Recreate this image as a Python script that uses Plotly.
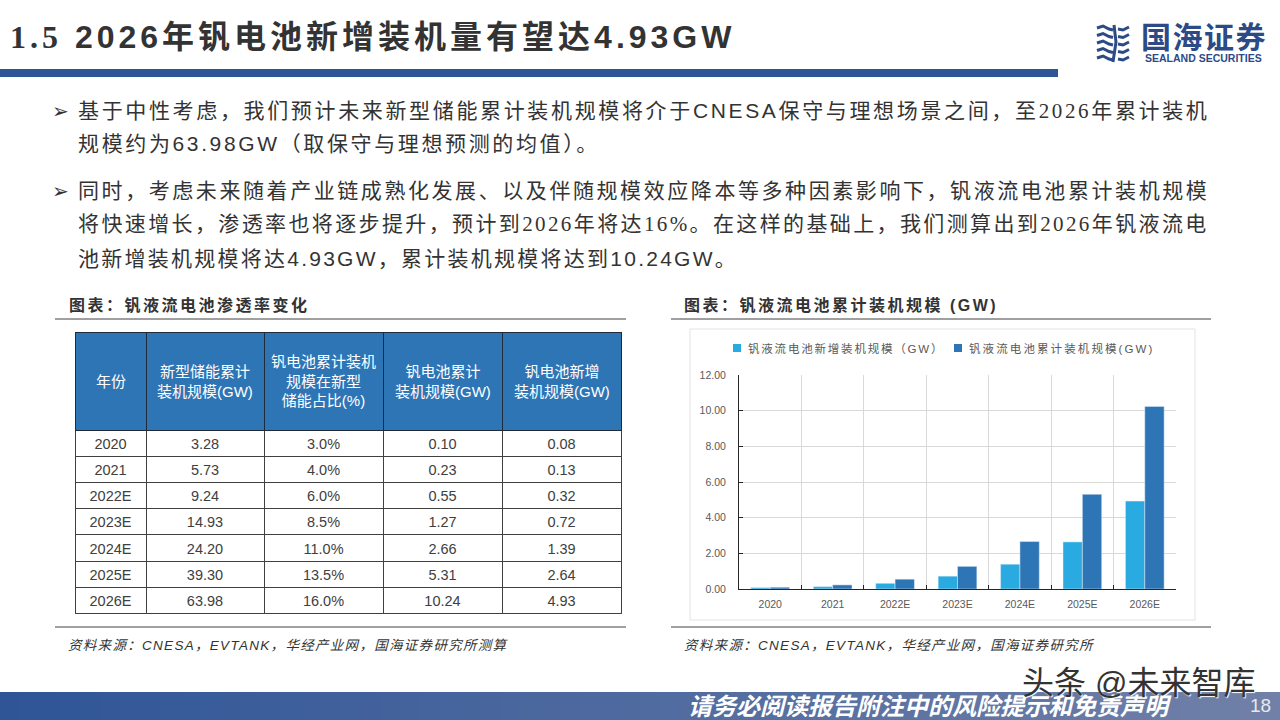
import json
import plotly.graph_objects as go

W, H = 1280, 720
SANS = "Liberation Sans, Noto Sans CJK SC"
SERIF = "Liberation Serif"

# table data
years = ["2020", "2021", "2022E", "2023E", "2024E", "2025E", "2026E"]
storage_total = ["3.28", "5.73", "9.24", "14.93", "24.20", "39.30", "63.98"]
vanadium_share = ["3.0%", "4.0%", "6.0%", "8.5%", "11.0%", "13.5%", "16.0%"]
header_labels = [
    "年份",
    "新型储能累计<br>装机规模(GW)",
    "钒电池累计装机<br>规模在新型<br>储能占比(%)",
    "钒电池累计<br>装机规模(GW)",
    "钒电池新增<br>装机规模(GW)",
]
column_edges = [75, 146, 264, 383, 502, 621]

# chart data
series_new = "钒液流电池新增装机规模（GW）"
series_total = "钒液流电池累计装机规模(GW)"
vanadium_new = [0.08, 0.13, 0.32, 0.72, 1.39, 2.64, 4.93]
vanadium_total = [0.10, 0.23, 0.55, 1.27, 2.66, 5.31, 10.24]
y_ticks = [0, 2, 4, 6, 8, 10, 12]

COLOR_NEW = "#29abe2"
COLOR_TOTAL = "#2e75b6"

# letter spacing of each annotation, applied after the page is drawn
spacing = []


def px(x):
    return x / W


def py(y):
    return 1 - y / H


def serif(text):
    return f'<span style="font-family:{SERIF}">{text}</span>'


def note(x, y, text, size, color="#333333", bold=False, italic=False, anchor="left", family=SANS, gap=0, **kw):
    fig.add_annotation(
        x=px(x), y=py(y), xref="paper", yref="paper", text=text, showarrow=False,
        xanchor=anchor, yanchor="middle", align=anchor,
        font=dict(family=family, size=size, color=color,
                  weight="bold" if bold else "normal",
                  style="italic" if italic else "normal", **kw),
    )
    spacing.append(gap)


def rect(x0, y0, x1, y1, fill=None, line=None, width=0, layer="above"):
    fig.add_shape(
        type="rect", xref="paper", yref="paper", layer=layer,
        x0=px(x0), x1=px(x1), y0=py(y0), y1=py(y1),
        fillcolor=fill, line=dict(color=line, width=width),
    )


def hline(x0, x1, y, color="#404040", width=1):
    fig.add_shape(
        type="line", xref="paper", yref="paper",
        x0=px(x0), x1=px(x1), y0=py(y), y1=py(y), line=dict(color=color, width=width),
    )


def wave(points, color="#2b4a86", width=3):
    # logo strokes, points given in page pixels
    path = "M" + " L".join(f"{px(a):.5f},{py(b):.5f}" for a, b in points)
    fig.add_shape(type="path", xref="paper", yref="paper", path=path, line=dict(color=color, width=width))


fig = go.Figure()

# table on the left, header text is placed separately so it can sit centred
fig.add_trace(go.Table(
    domain=dict(x=[px(column_edges[0]), px(column_edges[-1])], y=[py(622), py(332)]),
    columnwidth=[b - a for a, b in zip(column_edges, column_edges[1:])],
    header=dict(
        values=[""] * 5, height=98,
        fill_color="#2e75b6", line=dict(color="#1f2a3a", width=1),
    ),
    cells=dict(
        values=[years, storage_total, vanadium_share,
                [f"{v:.2f}" for v in vanadium_total], [f"{v:.2f}" for v in vanadium_new]],
        height=26.2, align="center",
        fill_color="white", line=dict(color="#404040", width=1),
        font=dict(family=SANS, size=14.5, color="#404040"),
    ),
))

# bar chart on the right
fig.add_trace(go.Bar(x=years, y=vanadium_new, name=series_new, marker_color=COLOR_NEW))
fig.add_trace(go.Bar(x=years, y=vanadium_total, name=series_total, marker_color=COLOR_TOTAL))

fig.update_layout(
    width=W, height=H, autosize=False,
    margin=dict(l=0, r=0, t=0, b=0, autoexpand=False),
    paper_bgcolor="white", plot_bgcolor="white",
    barmode="group", bargap=0.38, bargroupgap=0,
    showlegend=False,
    xaxis=dict(
        domain=[px(739), px(1176)], type="category", tickson="boundaries",
        showgrid=True, gridcolor="#d9d9d9", gridwidth=1,
        showline=True, linecolor="#262626", ticks="inside", ticklen=4, tickcolor="#262626",
        ticklabelstandoff=5,
        tickfont=dict(family=SANS, size=10.5, color="#595959"),
    ),
    yaxis=dict(
        domain=[py(589), py(375)], range=[0, 12], tickvals=y_ticks, tickformat=".2f",
        showgrid=True, gridcolor="#d9d9d9", gridwidth=1, zeroline=False,
        showline=True, linecolor="#262626", ticks="inside", ticklen=4, tickcolor="#262626",
        ticklabelstandoff=10,
        tickfont=dict(family=SANS, size=10.5, color="#595959"),
    ),
)

# header band and rules
rect(0, 69, 1058, 77, fill="#2f5597")
hline(55, 626, 319)
hline(55, 626, 627)
hline(671, 1211, 319)
hline(671, 1211, 627)
rect(690, 329, 1195, 620, line="#e3e3e3", width=1, layer="below")

# footer band, fading to the right
left, right = (47, 85, 151), (112, 128, 168)
steps = 64
for i in range(steps):
    t = i / (steps - 1)
    c = [round(a + (b - a) * t) for a, b in zip(left, right)]
    rect(W * i / steps, 692, W * (i + 1) / steps + 1, 720, fill=f"rgb({c[0]},{c[1]},{c[2]})")

# logo
for k in range(5):
    y0 = 28 + k * 7.5
    wave([(1097, y0), (1103, y0 - 2), (1109, y0 + 1), (1113, y0 + 2)])
    wave([(1118, y0 + 1), (1123, y0 + 2), (1129, y0 - 1)])
wave([(1114, 25), (1116, 42), (1113, 62)], width=3)
note(1139, 37, "国海证券", 30, color="#2b4a86", bold=True, gap=1.5)
note(1143, 58, "SEALAND SECURITIES", 10.5, color="#2b4a86", bold=True)

# title
note(8, 37, serif("1.5") + " 2026年钒电池新增装机量有望达4.93GW", 32, bold=True, gap=4)

# body text
note(50, 111, "➢", 20, family="DejaVu Sans")
note(76, 111, f"基于中性考虑，我们预计未来新型储能累计装机规模将介于CNESA保守与理想场景之间，至{serif('2026')}年累计装机", 21, gap=2.65)
note(76, 144, "规模约为63.98GW（取保守与理想预测的均值）。", 21, gap=2.63)
note(50, 191, "➢", 20, family="DejaVu Sans")
note(76, 191, "同时，考虑未来随着产业链成熟化发展、以及伴随规模效应降本等多种因素影响下，钒液流电池累计装机规模", 21, gap=2.57)
note(76, 224, f"将快速增长，渗透率也将逐步提升，预计到{serif('2026')}年将达{serif('16%')}。在这样的基础上，我们测算出到{serif('2026')}年钒液流电", 21, gap=2.38)
note(76, 258, "池新增装机规模将达4.93GW，累计装机规模将达到10.24GW。", 21, gap=2.25)

# section heads and sources
note(67, 305, "图表：钒液流电池渗透率变化", 16, bold=True, gap=2.5)
note(682, 305, "图表：钒液流电池累计装机规模 (GW)", 16, bold=True, gap=2.5)
note(66, 645, "资料来源：CNESA，EVTANK，华经产业网，国海证券研究所测算", 13.5, italic=True, gap=1.3)
note(682, 645, "资料来源：CNESA，EVTANK，华经产业网，国海证券研究所", 13.5, italic=True, gap=1.3)

# table header labels
for a, b, label in zip(column_edges, column_edges[1:], header_labels):
    note((a + b) / 2, 381, label, 15, color="white", anchor="center")

# chart legend
rect(733, 344, 741, 352, fill=COLOR_NEW)
note(746, 348, series_new, 11.5, color="#595959", gap=1.8)
rect(954, 344, 962, 352, fill=COLOR_TOTAL)
note(967, 348, series_total, 11.5, color="#595959", gap=2.1)

# footer text and watermark
note(686, 706, "请务必阅读报告附注中的风险提示和免责声明", 24, color="white", bold=True, italic=True)
note(1248, 705, "18", 19, color="#e8e8e8")
note(1020, 683, "头条 @未来智库", 32, color="#333333", shadow="1px 1px 1px white")

post_script = (
    "document.body.style.margin='0';"
    "document.body.style.overflow='hidden';"
    "var sp=" + json.dumps(spacing) + ";"
    "document.querySelectorAll('.annotation-text').forEach(function(t,i){"
    "if(sp[i]){t.style.letterSpacing=sp[i]+'px';}});"
)

fig.write_html("out.html", post_script=post_script, config=dict(displayModeBar=False))
